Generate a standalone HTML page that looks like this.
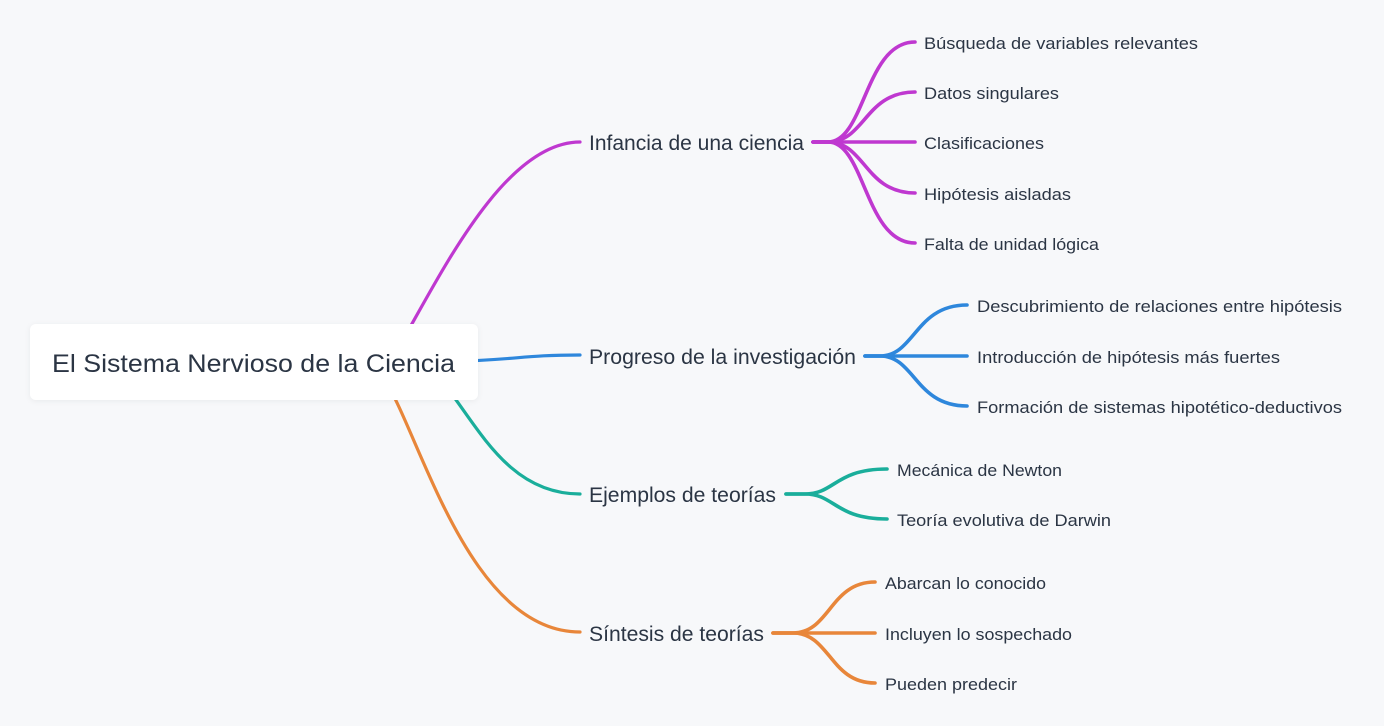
<!DOCTYPE html>
<html><head><meta charset="utf-8"><style>
html,body{margin:0;padding:0;background:#f7f8fa;}
svg{display:block;}
text{font-family:"Liberation Sans",sans-serif;fill:#2b3544;}
</style></head><body>
<svg width="1384" height="726" viewBox="0 0 1384 726" xmlns="http://www.w3.org/2000/svg">
<defs>
<filter id="sh" x="-10%" y="-30%" width="120%" height="160%">
<feDropShadow dx="0" dy="1" stdDeviation="3" flood-color="#000" flood-opacity="0.06"/>
</filter>
</defs>
<rect width="1384" height="726" fill="#f7f8fa"/>
<g fill="none" stroke-width="3.2" stroke-linecap="round">
<!-- root connectors -->
<path d="M400 345 C442 272 505 142 580 142" stroke="#bf38d0"/>
<path d="M440 362 C520 360 520 355 580 355" stroke="#2e87dc"/>
<path d="M445 385 C480 430 510 494 580 494" stroke="#1aae9b"/>
<path d="M385 380 C422 440 470 632 580 632" stroke="#e8863a"/>
</g>
<g fill="none" stroke-width="3.6" stroke-linecap="round">
<!-- purple children -->
<g stroke="#bf38d0">
<path d="M813 142 L828 142 C865 142 865 42 915 42"/>
<path d="M813 142 L828 142 C865 142 865 92 915 92"/>
<path d="M813 142 L915 142"/>
<path d="M813 142 L828 142 C865 142 865 193 915 193"/>
<path d="M813 142 L828 142 C865 142 865 243 915 243"/>
</g>
<!-- blue children -->
<g stroke="#2e87dc">
<path d="M865 356 L880 356 C915 356 915 305 967 305"/>
<path d="M865 356 L967 356"/>
<path d="M865 356 L880 356 C915 356 915 406 967 406"/>
</g>
<!-- teal children -->
<g stroke="#1aae9b">
<path d="M786 494 L805 494 C835 494 835 469 887 469"/>
<path d="M786 494 L805 494 C835 494 835 519 887 519"/>
</g>
<!-- orange children -->
<g stroke="#e8863a">
<path d="M773 633 L793 633 C830 633 830 582 875 582"/>
<path d="M773 633 L875 633"/>
<path d="M773 633 L793 633 C830 633 830 683 875 683"/>
</g>
</g>
<!-- root box -->
<rect x="30" y="324" width="448" height="76" rx="6" ry="6" fill="#ffffff" filter="url(#sh)"/>
<text x="52" y="372" font-size="25" textLength="403" lengthAdjust="spacingAndGlyphs">El Sistema Nervioso de la Ciencia</text>
<!-- level 1 -->
<g font-size="21">
<text x="589" y="150" textLength="215" lengthAdjust="spacingAndGlyphs">Infancia de una ciencia</text>
<text x="589" y="364" textLength="267" lengthAdjust="spacingAndGlyphs">Progreso de la investigación</text>
<text x="589" y="502" textLength="187" lengthAdjust="spacingAndGlyphs">Ejemplos de teorías</text>
<text x="589" y="641" textLength="175" lengthAdjust="spacingAndGlyphs">Síntesis de teorías</text>
</g>
<!-- level 2 -->
<g font-size="17">
<text x="924" y="49" textLength="274" lengthAdjust="spacingAndGlyphs">Búsqueda de variables relevantes</text>
<text x="924" y="99" textLength="135" lengthAdjust="spacingAndGlyphs">Datos singulares</text>
<text x="924" y="149" textLength="120" lengthAdjust="spacingAndGlyphs">Clasificaciones</text>
<text x="924" y="200" textLength="147" lengthAdjust="spacingAndGlyphs">Hipótesis aisladas</text>
<text x="924" y="250" textLength="175" lengthAdjust="spacingAndGlyphs">Falta de unidad lógica</text>

<text x="977" y="312" textLength="365" lengthAdjust="spacingAndGlyphs">Descubrimiento de relaciones entre hipótesis</text>
<text x="977" y="363" textLength="303" lengthAdjust="spacingAndGlyphs">Introducción de hipótesis más fuertes</text>
<text x="977" y="413" textLength="365" lengthAdjust="spacingAndGlyphs">Formación de sistemas hipotético-deductivos</text>

<text x="897" y="476" textLength="165" lengthAdjust="spacingAndGlyphs">Mecánica de Newton</text>
<text x="897" y="526" textLength="214" lengthAdjust="spacingAndGlyphs">Teoría evolutiva de Darwin</text>

<text x="885" y="589" textLength="161" lengthAdjust="spacingAndGlyphs">Abarcan lo conocido</text>
<text x="885" y="640" textLength="187" lengthAdjust="spacingAndGlyphs">Incluyen lo sospechado</text>
<text x="885" y="690" textLength="132" lengthAdjust="spacingAndGlyphs">Pueden predecir</text>
</g>
</svg>
</body></html>
